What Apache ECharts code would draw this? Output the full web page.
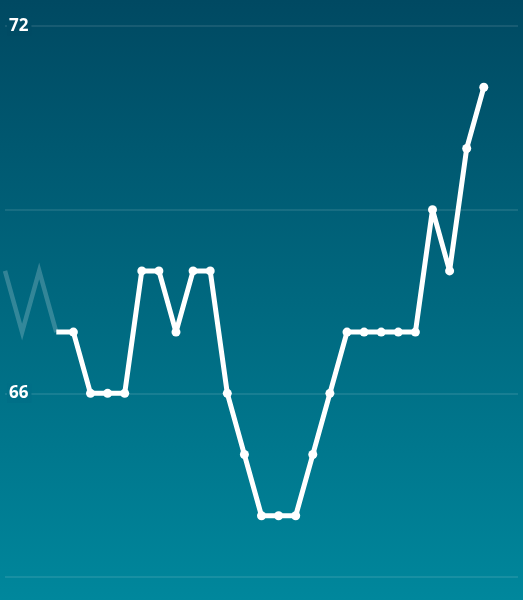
<!DOCTYPE html>
<html>
<head>
<meta charset="utf-8">
<script src="https://cdn.jsdelivr.net/npm/echarts@6/dist/echarts.min.js"></script>
<style>
html,body{margin:0;padding:0;width:523px;height:600px;overflow:hidden;}
#c{width:523px;height:600px;}
</style>
</head>
<body>
<div id="c"></div>
<script>
var categories = ['1','2','3','4','5','6','7','8','9','10','11','12','13','14','15','16','17','18','19','20','21','22','23','24','25','26','27','28','29','30','31'];
var values = [68,67,68,67,67,66,66,66,68,68,67,68,68,66,65,64,64,64,65,66,67,67,67,67,67,69,68,70,71];
var fadeCount = 4;
var shownLabels = ['72','66'];

var fadedData = values.slice(0, fadeCount);
var mainData = values.map(function(v, i){
  if (i < fadeCount - 1) return null;
  if (i === fadeCount - 1) return {value: v, symbol: 'none'};
  return v;
});

var chart = echarts.init(document.getElementById('c'));
chart.setOption({
  animation: false,
  backgroundColor: new echarts.graphic.LinearGradient(0,0,0,1,[
    {offset:0,color:'#004962'},
    {offset:1,color:'#00879c'}
  ]),
  grid: {left: 5, right: 5, top: 26, bottom: 23, containLabel: false},
  xAxis: {
    type: 'category', data: categories, boundaryGap: false,
    axisLine: {show:false}, axisTick:{show:false}, axisLabel:{show:false}, splitLine:{show:false}
  },
  yAxis: {
    type: 'value', min: 63, max: 72, interval: 3,
    axisLine:{show:false}, axisTick:{show:false},
    splitLine:{show:true, lineStyle:{color:'rgba(255,255,255,0.13)', width:1.5}},
    axisLabel:{
      inside: true, margin: 2,
      formatter: function(v){
        var s = String(v);
        if (shownLabels.indexOf(s) < 0) return '';
        return s === '72' ? '{a|' + s + '}' : '{b|' + s + '}';
      },
      rich: {
        a: {color:'#ffffff', fontSize:17, fontWeight:'bold', fontFamily:'Open Sans', backgroundColor:'#004b64', padding:[1,3,1,2]},
        b: {color:'#ffffff', fontSize:17, fontWeight:'bold', fontFamily:'Open Sans', backgroundColor:'#006f87', padding:[1,3,1,2]}
      }
    },
    z: 5
  },
  series: [
    {
      type: 'line', data: fadedData, symbol: 'none',
      lineStyle: {color:'rgba(255,255,255,0.2)', width:4.5, join:'miter'}
    },
    {
      type: 'line', data: mainData, symbol: 'circle', symbolSize: 9,
      connectNulls: false,
      itemStyle: {color:'#ffffff'},
      lineStyle: {color:'#ffffff', width:5}
    }
  ]
});
</script>
</body>
</html>
